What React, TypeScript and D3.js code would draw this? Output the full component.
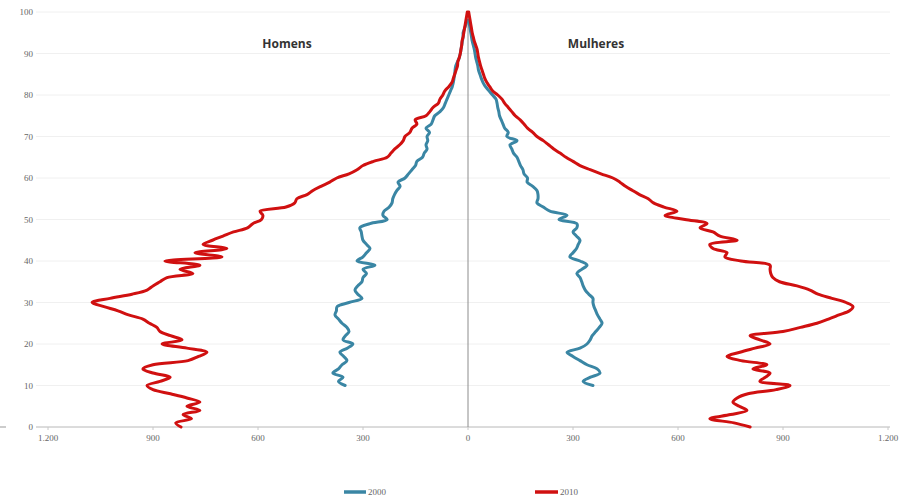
import React from "react";
import * as d3 from "d3";

const W = 904;
const H = 503;

const yTicks = [0, 10, 20, 30, 40, 50, 60, 70, 80, 90, 100];
const xTicks = [-1200, -900, -600, -300, 0, 300, 600, 900, 1200];
const xTickLabels = ["1.200", "900", "600", "300", "0", "300", "600", "900", "1.200"];

const seriesNames = ["2000", "2010"];

// 2010, ages 0..100
const men2010 = [
  820, 835, 790, 814, 766, 803, 766, 803, 850, 900,
  917, 880, 851, 900, 929, 900, 800, 770, 746, 803,
  874, 817, 850, 880, 889, 910, 929, 970, 1000, 1040,
  1074, 1023, 960, 917, 900, 880, 860, 786, 823, 766,
  866, 703, 780, 689, 757, 730, 700, 670, 630, 615,
  590, 586, 594, 520, 495, 489, 460, 443, 420, 395,
  375, 340, 317, 300, 270, 231, 220, 209, 195, 185,
  180, 166, 160, 146, 151, 120, 109, 100, 85, 80,
  72, 66, 55, 46, 42, 38, 34, 30, 29, 25,
  22, 20, 18, 17, 14, 12, 10, 8, 6, 4, 2,
];
const women2010 = [
  806, 760, 691, 750, 797, 775, 757, 769, 800, 880,
  920, 834, 850, 863, 814, 854, 780, 740, 777, 820,
  863, 834, 806, 900, 950, 997, 1030, 1060, 1090, 1100,
  1080, 1040, 1000, 977, 940, 890, 871, 865, 863, 863,
  780, 734, 740, 700, 691, 769, 720, 700, 663, 683,
  620, 563, 597, 560, 530, 515, 490, 470, 450, 434,
  414, 380, 349, 320, 300, 280, 263, 245, 230, 215,
  197, 185, 170, 160, 149, 135, 125, 115, 105, 97,
  85, 70, 62, 54, 48, 44, 40, 36, 33, 30,
  28, 26, 22, 18, 15, 12, 10, 8, 6, 4, 2,
];
// 2000, ages 10..98
const ages2000Start = 10;
const men2000 = [
  351, 370, 357, 386, 370, 360, 346, 355, 366, 345,
  329, 357, 350, 340, 346, 360, 370, 380, 376, 374,
  340, 303, 315, 323, 315, 303, 300, 290, 300, 266,
  317, 300, 290, 280, 290, 300, 303, 305, 309, 280,
  231, 243, 240, 225, 217, 215, 210, 203, 194, 200,
  180, 170, 160, 150, 146, 130, 125, 117, 120, 115,
  117, 110, 120, 105, 100, 95, 80, 70, 65, 60,
  55, 50, 45, 42, 40, 38, 37, 35, 30, 25,
  22, 20, 18, 16, 14, 14, 10, 6, 3,
];
const women2000 = [
  357, 329, 350, 377, 369, 340, 320, 300, 283, 320,
  340, 349, 355, 365, 375, 383, 377, 370, 365, 360,
  357, 357, 345, 335, 329, 325, 320, 311, 325, 340,
  320, 291, 300, 310, 315, 320, 310, 300, 311, 311,
  260, 283, 234, 215, 197, 200, 200, 197, 185, 169,
  170, 160, 157, 150, 145, 140, 130, 125, 120, 140,
  111, 115, 105, 100, 95, 90, 88, 85, 83, 80,
  70, 60, 50, 43, 38, 34, 30, 28, 25, 22,
  20, 18, 15, 12, 10, 8, 6, 4, 2,
];

const COLOR_2000 = "#3a86a4";
const COLOR_2010 = "#d01010";

type Pt = { age: number; v: number };

function toPts(values: number[], start: number, sign: number): Pt[] {
  return values.map((v, i) => ({ age: start + i, v: sign * v }));
}

export default function App() {
  const x = d3.scaleLinear().domain([-1200, 1200]).range([48, 888]);
  const y = d3.scaleLinear().domain([0, 100]).range([427, 12]);

  const line = d3
    .line<Pt>()
    .x((d) => x(d.v))
    .y((d) => y(d.age))
    .curve(d3.curveCatmullRom.alpha(0.5));

  const series = [
    { pts: toPts(men2000, ages2000Start, -1), color: COLOR_2000 },
    { pts: toPts(women2000, ages2000Start, 1), color: COLOR_2000 },
    { pts: toPts(men2010, 0, -1), color: COLOR_2010 },
    { pts: toPts(women2010, 0, 1), color: COLOR_2010 },
  ];

  const tickFont = "'Liberation Serif', 'DejaVu Serif', serif";

  return (
    <div style={{ position: "fixed", left: 0, top: 0, width: W, height: H, background: "#fff" }}>
      <svg width={W} height={H} style={{ display: "block" }}>
        <rect x={0} y={0} width={W} height={H} fill="#fff" />
        {yTicks.map((t) => (
          <line
            key={"g" + t}
            x1={36}
            x2={890}
            y1={y(t)}
            y2={y(t)}
            stroke={t === 0 ? "#b8b8b8" : "#f0f0f0"}
            strokeWidth={1}
          />
        ))}
        <line x1={0} x2={6} y1={y(0)} y2={y(0)} stroke="#999" strokeWidth={1} />
        {yTicks.map((t) => (
          <text
            key={"yl" + t}
            x={33}
            y={y(t)}
            dy="0.35em"
            textAnchor="end"
            fontFamily={tickFont}
            fontSize={9}
            fill="#666"
          >
            {t}
          </text>
        ))}
        {xTicks.map((t, i) => (
          <g key={"xt" + t}>
            <line x1={x(t)} x2={x(t)} y1={y(0)} y2={y(0) + 3} stroke="#c8c8c8" />
            <text
              x={x(t)}
              y={y(0) + 11}
              dy="0.35em"
              textAnchor="middle"
              fontFamily={tickFont}
              fontSize={9}
              fill="#666"
            >
              {xTickLabels[i]}
            </text>
          </g>
        ))}
        <line x1={x(0)} x2={x(0)} y1={y(100)} y2={y(0)} stroke="#8c8c8c" strokeWidth={1} />

        {series.map((s, i) => (
          <path
            key={"s" + i}
            d={line(s.pts) || ""}
            fill="none"
            stroke={s.color}
            strokeWidth={3}
            strokeLinejoin="round"
            strokeLinecap="round"
          />
        ))}

        <text x={287} y={44} dy="0.35em" textAnchor="middle" fontFamily="'Open Sans', 'DejaVu Sans', sans-serif" fontWeight="bold" fontSize={12} fill="#333">
          Homens
        </text>
        <text x={596} y={44} dy="0.35em" textAnchor="middle" fontFamily="'Open Sans', 'DejaVu Sans', sans-serif" fontWeight="bold" fontSize={12} fill="#333">
          Mulheres
        </text>

        <line x1={344} x2={366} y1={492} y2={492} stroke={COLOR_2000} strokeWidth={3.5} />
        <text x={368} y={492} dy="0.35em" fontFamily={tickFont} fontSize={9} fill="#666">
          {seriesNames[0]}
        </text>
        <line x1={535} x2={558} y1={492} y2={492} stroke={COLOR_2010} strokeWidth={3.5} />
        <text x={560} y={492} dy="0.35em" fontFamily={tickFont} fontSize={9} fill="#666">
          {seriesNames[1]}
        </text>
      </svg>
    </div>
  );
}
